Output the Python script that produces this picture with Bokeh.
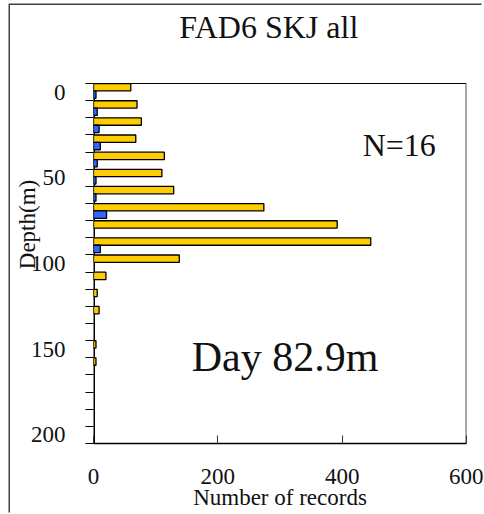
import math
from bokeh.plotting import figure
from bokeh.models import Range1d, FixedTicker, Label
from bokeh.embed import file_html
from bokeh.resources import INLINE

# ---- data ----
depths = [0, 10, 20, 30, 40, 50, 60, 70, 80, 90, 100, 110, 120, 130, 140, 150, 160, 170, 180, 190, 200]
day_all = [60, 70, 77, 68, 114, 110, 129, 274, 392, 446, 138, 20, 6, 9, 0, 4, 4, 0, 0, 0, 0]
day_sub = [4, 6, 9, 11, 6, 4, 4, 21, 0, 11, 0, 0, 0, 0, 0, 0, 0, 0, 0, 0, 0]
x_ticks = [0, 200, 400, 600]
y_label_ticks = [0, 50, 100, 150, 200]
title_text = "FAD6 SKJ all"
n_text = "N=16"
day_text = "Day 82.9m"

FONT = "Liberation Serif"
TXT = "#111111"

X0, X1 = 0, 600
D_TOP, D_BOT = -5, 205          # extent of the depth axis box
PX_PER_D = 360 / (D_BOT - D_TOP)
FRAME_H = 438
y_top = D_TOP - (FRAME_H - 360) / PX_PER_D   # extra room above the box for the title

p = figure(frame_width=373, frame_height=FRAME_H,
           min_border_left=83, min_border_right=17,
           min_border_top=0, min_border_bottom=71,
           x_range=Range1d(X0, X1), y_range=Range1d(D_BOT, y_top),
           output_backend="svg", toolbar_location=None,
           margin=(5, 0, 0, 10),
           styles={"box-shadow": "-1.5px -1.5px 0px 0px #404040"})
p.background_fill_color = "white"
p.border_fill_color = "white"
p.outline_line_color = None
p.xgrid.visible = False
p.ygrid.visible = False

# box lines (top, right, left)
p.segment(x0=[X0, X1, X0], y0=[D_TOP, D_TOP, D_TOP],
          x1=[X1, X1, X0], y1=[D_TOP, D_BOT, D_BOT],
          line_color=["black", "#555555", "black"], line_width=[1.2, 2.0, 3.0])

# bars (upper: all records, lower: subset)
ya = [d - 2.8 for d, v in zip(depths, day_all) if v > 0]
va = [v for v in day_all if v > 0]
yb = [d + 1.5 for d, v in zip(depths, day_sub) if v > 0]
vb = [v for v in day_sub if v > 0]
p.hbar(y=ya, right=va, left=0, height=4.3, fill_color="#FFCC00",
       line_color="black", line_width=1.3)
p.hbar(y=yb, right=vb, left=0, height=4.3, fill_color="#3366FF",
       line_color="black", line_width=1.3)

# x axis
xa = p.xaxis[0]
xa.ticker = FixedTicker(ticks=x_ticks)
xa.major_tick_in = 8
xa.major_tick_out = 0
xa.minor_tick_line_color = None
xa.axis_line_color = "black"
xa.axis_line_width = 1.5
xa.major_tick_line_color = "#333333"
xa.major_label_text_font = FONT
xa.major_label_text_font_size = "23px"
xa.major_label_text_color = TXT
xa.major_label_standoff = 25
xa.axis_label = "Number of records"
xa.axis_label_text_font = FONT
xa.axis_label_text_font_style = "normal"
xa.axis_label_text_font_size = "23px"
xa.axis_label_text_color = TXT
xa.axis_label_standoff = -2

# y axis
yax = p.yaxis[0]
yax.ticker = FixedTicker(ticks=y_label_ticks,
                         minor_ticks=[d - 5 for d in depths] + [depths[-1] + 5])
yax.major_tick_in = 0
yax.major_tick_out = 0
yax.minor_tick_in = 0
yax.minor_tick_out = 8
yax.minor_tick_line_color = "black"
yax.minor_tick_line_width = 1.2
yax.axis_line_color = None
yax.major_label_text_font = FONT
yax.major_label_text_font_size = "23px"
yax.major_label_text_color = TXT
yax.major_label_standoff = 20
yax.axis_label = "Depth(m)"
yax.axis_label_text_font = FONT
yax.axis_label_text_font_style = "normal"
yax.axis_label_text_font_size = "23px"
yax.axis_label_text_color = TXT
yax.axis_label_standoff = -12

# texts
p.add_layout(Label(x=282, y=-38, text=title_text,
                   text_align="center", text_baseline="alphabetic",
                   text_font=FONT, text_font_size="32px", text_color=TXT))
p.add_layout(Label(x=433, y=31, text=n_text,
                   text_align="left", text_baseline="alphabetic",
                   text_font=FONT, text_font_size="32px", text_color=TXT))
p.add_layout(Label(x=158, y=154.5, text=day_text,
                   text_align="left", text_baseline="alphabetic",
                   text_font=FONT, text_font_size="42px", text_color=TXT))

open("out.html", "w").write(file_html(p, INLINE))
